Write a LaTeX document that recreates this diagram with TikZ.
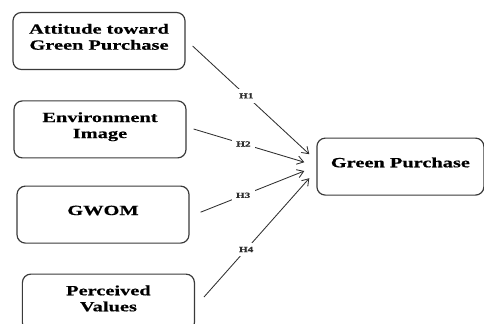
\documentclass[tikz,border=0pt]{standalone}
\usepackage{fontspec}
\usepackage{tikz}
\usetikzlibrary{positioning,arrows.meta}
\newfontfamily\boxfont[FakeStretch=1.45,FakeBold=0.6]{Liberation Serif Bold}
\definecolor{ink}{HTML}{2E2E2E}
\definecolor{frame}{HTML}{3A3A3A}

\begin{document}
\begin{tikzpicture}[>={Straight Barb[length=4.5pt,width=6pt]},
    factor/.style={draw=frame, line width=0.85pt, rounded corners=6pt, minimum width=4.3cm, minimum height=1.425cm,
      align=center, text depth=6pt, font=\boxfont\fontsize{10}{11.4}\selectfont, text=black},
    link/.style={->, draw=ink, line width=0.6pt},
    hyp/.style={fill=white, inner sep=3pt, font=\boxfont\fontsize{5.5}{6}\selectfont, text=ink}]
    \useasboundingbox (0,0) rectangle (12.1,8.075);
    \clip (0,0) rectangle (12.1,8.075);
    \node[factor] (att) at (2.475,7.05) {Attitude toward\\Green Purchase};
    \node[factor] (img) at (2.5,4.84) {Environment\\Image};
    \node[factor] (gwom) at (2.575,2.71) {GWOM};
    \node[factor] (val) at (2.71,0.51) {Perceived\\Values};
    \node[factor, minimum width=4.175cm] (gp) at (10.01,3.91) {Green Purchase};
    \draw[link] ([shift={(0.175,-0.125)}]att.east) -- node[hyp, pos=0.46]{H1} ([shift={(-0.175,0.31)}]gp.west);
    \draw[link] ([shift={(0.175,0.01)}]img.east) -- node[hyp, pos=0.45]{H2} ([shift={(-0.3,0.11)}]gp.west);
    \draw[link] ([shift={(0.275,0.06)}]gwom.east) -- node[hyp, pos=0.41]{H3} ([shift={(-0.3,-0.11)}]gp.west);
    \draw[link] ([shift={(0.225,0.14)}]val.east) -- node[hyp, pos=0.4]{H4} ([shift={(-0.175,-0.29)}]gp.west);
  \end{tikzpicture}
\end{document}
